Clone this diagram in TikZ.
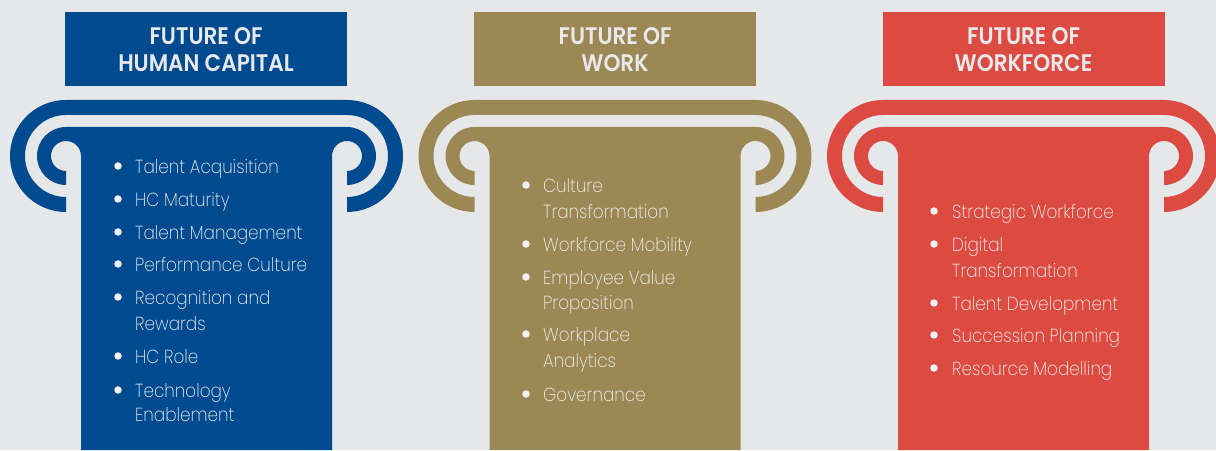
\documentclass[tikz,border=0pt]{standalone}
\usepackage{fontspec}
\setmainfont{Poppins}[UprightFont={* Light}]
\newfontfamily\headfont{Poppins}[UprightFont={* SemiBold}, FakeStretch=0.9]
\newfontfamily\bodyfont{Poppins}[UprightFont={* ExtraLight}, FakeStretch=0.89]

\definecolor{bg}{HTML}{E6E7E8}
\definecolor{hcblue}{HTML}{004A8F}
\definecolor{wkgold}{HTML}{9B8855}
\definecolor{wfred}{HTML}{DC4B41}
\definecolor{headtext}{HTML}{E9E9EB}
\definecolor{bodytext}{HTML}{F2F2F2}

% Ionic column: outer scroll band, inner capital with volutes, shaft
\newcommand{\ionicpillar}[2]{%
  \begin{scope}[xshift=#1pt]
    \fill[#2] (66,238) arc[start angle=270,end angle=90,radius=56]
      -- (347,350) arc[start angle=90,end angle=-90,radius=56]
      -- (347,253) arc[start angle=-90,end angle=90,radius=41]
      -- (66,335) arc[start angle=90,end angle=270,radius=41] -- cycle;
    \fill[#2] (66,265) arc[start angle=270,end angle=90,radius=29]
      -- (347,323) arc[start angle=90,end angle=-90,radius=29]
      -- (347,279) arc[start angle=-90,end angle=180,radius=15]
      -- (332,0) -- (81,0) -- (81,294)
      arc[start angle=0,end angle=270,radius=15] -- cycle;
  \end{scope}}

\tikzset{
  headbox/.style={minimum width=282pt, minimum height=74pt, inner sep=0pt},
  headline/.style={anchor=base, inner sep=0pt, text=headtext,
    font=\headfont\fontsize{24}{27}\selectfont},
  listline/.style={anchor=base west, inner sep=0pt, text=bodytext,
    font=\bodyfont\fontsize{18.9}{26}\selectfont},
  bulletdot/.style={circle, fill=bodytext, minimum size=7.5pt, inner sep=0pt}
}

\begin{document}
\begin{tikzpicture}[x=1pt,y=1pt]
  \fill[bg] (0,0) rectangle (1216,450);
  \useasboundingbox (0,0) rectangle (1216,450);

  \ionicpillar{0}{hcblue}
  \ionicpillar{408.5}{wkgold}
  \ionicpillar{817}{wfred}

  % headers
  \node[headbox, fill=hcblue] (hdrA) at (206,401) {};
  \node[headline] (hA1) at (206,405) {FUTURE OF};
  \node[headline] (hA2) at (206,378) {HUMAN CAPITAL};

  \node[headbox, fill=wkgold] (hdrB) at (615,401) {};
  \node[headline] (hB1) at (615,405) {FUTURE OF};
  \node[headline] (hB2) at (615,378) {WORK};

  \node[headbox, fill=wfred] (hdrC) at (1023.5,401) {};
  \node[headline] (hC1) at (1023.5,405) {FUTURE OF};
  \node[headline] (hC2) at (1023.5,378) {WORKFORCE};

  % Future of Human Capital
  \node[bulletdot] (aD1) at (118,284) {};
  \node[listline] (aT1) at (135,276) {Talent Acquisition};
  \node[bulletdot] (aD2) at (118,251) {};
  \node[listline] (aT2) at (135,243) {HC Maturity};
  \node[bulletdot] (aD3) at (118,218) {};
  \node[listline] (aT3) at (135,210) {Talent Management};
  \node[bulletdot] (aD4) at (118,186) {};
  \node[listline] (aT4) at (135,178) {Performance Culture};
  \node[bulletdot] (aD5) at (118,153) {};
  \node[listline] (aT5) at (135,145) {Recognition and};
  \node[listline] (aT5b) at (135,119) {Rewards};
  \node[bulletdot] (aD6) at (118,94) {};
  \node[listline] (aT6) at (135,86) {HC Role};
  \node[bulletdot] (aD7) at (118,60) {};
  \node[listline] (aT7) at (135,52) {Technology};
  \node[listline] (aT7b) at (135,28) {Enablement};

  % Future of Work
  \node[bulletdot] (bD1) at (526,265) {};
  \node[listline] (bT1) at (543,257) {Culture};
  \node[listline] (bT1b) at (543,231) {Transformation};
  \node[bulletdot] (bD2) at (526,206) {};
  \node[listline] (bT2) at (543,198) {Workforce Mobility};
  \node[bulletdot] (bD3) at (526,173) {};
  \node[listline] (bT3) at (543,165) {Employee Value};
  \node[listline] (bT3b) at (543,140) {Proposition};
  \node[bulletdot] (bD4) at (526,116) {};
  \node[listline] (bT4) at (543,108) {Workplace};
  \node[listline] (bT4b) at (543,82) {Analytics};
  \node[bulletdot] (bD5) at (526,56) {};
  \node[listline] (bT5) at (543,48) {Governance};

  % Future of Workforce
  \node[bulletdot] (cD1) at (934,239) {};
  \node[listline] (cT1) at (952,231) {Strategic Workforce};
  \node[bulletdot] (cD2) at (934,206) {};
  \node[listline] (cT2) at (952,198) {Digital};
  \node[listline] (cT2b) at (952,172) {Transformation};
  \node[bulletdot] (cD3) at (934,147) {};
  \node[listline] (cT3) at (952,139) {Talent Development};
  \node[bulletdot] (cD4) at (934,115) {};
  \node[listline] (cT4) at (952,107) {Succession Planning};
  \node[bulletdot] (cD5) at (934,82) {};
  \node[listline] (cT5) at (952,74) {Resource Modelling};
\end{tikzpicture}
\end{document}
